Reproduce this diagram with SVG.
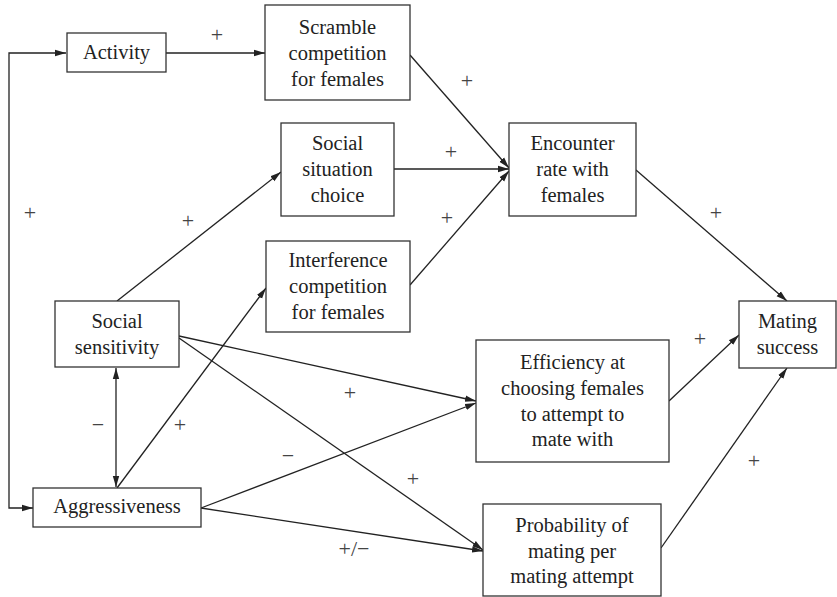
<svg xmlns="http://www.w3.org/2000/svg" width="837" height="597" viewBox="0 0 837 597">
<style>
.box{fill:#fff;stroke:#333;stroke-width:1.3}
.t{font-family:'Liberation Serif','Times New Roman',serif;font-size:20.5px;fill:#222;text-anchor:middle}
.lbl{font-family:'Liberation Serif','Times New Roman',serif;font-size:22px;fill:#444;text-anchor:middle}
.c{fill:none;stroke:#222;stroke-width:1.3}
</style>
<defs>
<marker id="ah" markerUnits="userSpaceOnUse" markerWidth="12" markerHeight="8" refX="11" refY="4" orient="auto-start-reverse">
<path d="M0,0.8 L11,4 L0,7.2 Z" fill="#222"/>
</marker>
</defs>
<rect width="837" height="597" fill="#fff"/>
<g id="connectors">
<path class="c" d="M66,53 H9 V508 H33" marker-start="url(#ah)" marker-end="url(#ah)"/>
<path class="c" d="M166,53 L265,53" marker-end="url(#ah)"/>
<path class="c" d="M410,55 L509,168" marker-end="url(#ah)"/>
<path class="c" d="M394,169 L509,169" marker-end="url(#ah)"/>
<path class="c" d="M410,285 L509,171" marker-end="url(#ah)"/>
<path class="c" d="M117,301 L281,172" marker-end="url(#ah)"/>
<path class="c" d="M117,488 L266,288" marker-end="url(#ah)"/>
<path class="c" d="M116,368 L116,487" marker-start="url(#ah)" marker-end="url(#ah)"/>
<path class="c" d="M179,336 L476,401" marker-end="url(#ah)"/>
<path class="c" d="M179,338 L483,550" marker-end="url(#ah)"/>
<path class="c" d="M201,508 L476,403" marker-end="url(#ah)"/>
<path class="c" d="M201,508 L483,551" marker-end="url(#ah)"/>
<path class="c" d="M636,170 L787,301" marker-end="url(#ah)"/>
<path class="c" d="M669,401 L739,335" marker-end="url(#ah)"/>
<path class="c" d="M661,548 L787,368" marker-end="url(#ah)"/>
</g>
<g id="labels">
<text class="lbl" x="217" y="42">+</text>
<text class="lbl" x="467" y="88">+</text>
<text class="lbl" x="451" y="159">+</text>
<text class="lbl" x="447" y="225">+</text>
<text class="lbl" x="30" y="220">+</text>
<text class="lbl" x="188" y="228">+</text>
<text class="lbl" x="716" y="220">+</text>
<text class="lbl" x="700" y="346">+</text>
<text class="lbl" x="754" y="468">+</text>
<text class="lbl" x="350" y="400">+</text>
<text class="lbl" x="288" y="463">−</text>
<text class="lbl" x="413" y="486">+</text>
<text class="lbl" x="354" y="556">+/−</text>
<text class="lbl" x="98" y="432">−</text>
<text class="lbl" x="180" y="432">+</text>
</g>
<g id="activity">
<rect class="box" x="67" y="33" width="99" height="39"/>
<text class="t" x="116.5" y="59">Activity</text>
</g>
<g id="scramble">
<rect class="box" x="265" y="5" width="145" height="95"/>
<text class="t" x="337.5" y="33.5">Scramble</text>
<text class="t" x="337.5" y="59.5">competition</text>
<text class="t" x="337.5" y="85.5">for females</text>
</g>
<g id="social-situation">
<rect class="box" x="281" y="123" width="113" height="93"/>
<text class="t" x="337.5" y="149.5">Social</text>
<text class="t" x="337.5" y="175.5">situation</text>
<text class="t" x="337.5" y="201.5">choice</text>
</g>
<g id="encounter">
<rect class="box" x="509" y="123" width="127" height="93"/>
<text class="t" x="572.5" y="149.5">Encounter</text>
<text class="t" x="572.5" y="175.5">rate with</text>
<text class="t" x="572.5" y="201.5">females</text>
</g>
<g id="interference">
<rect class="box" x="266" y="241" width="144" height="91"/>
<text class="t" x="338" y="266.5">Interference</text>
<text class="t" x="338" y="292.5">competition</text>
<text class="t" x="338" y="318.5">for females</text>
</g>
<g id="social-sensitivity">
<rect class="box" x="55" y="301" width="124" height="66"/>
<text class="t" x="117" y="327.5">Social</text>
<text class="t" x="117" y="353.5">sensitivity</text>
</g>
<g id="aggressiveness">
<rect class="box" x="33" y="488" width="168" height="39"/>
<text class="t" x="117" y="513">Aggressiveness</text>
</g>
<g id="mating-success">
<rect class="box" x="739" y="301" width="97" height="67"/>
<text class="t" x="787.5" y="328">Mating</text>
<text class="t" x="787.5" y="354">success</text>
</g>
<g id="efficiency">
<rect class="box" x="476" y="340" width="193" height="122"/>
<text class="t" x="572.5" y="369">Efficiency at</text>
<text class="t" x="572.5" y="395">choosing females</text>
<text class="t" x="572.5" y="421">to attempt to</text>
<text class="t" x="572.5" y="446">mate with</text>
</g>
<g id="probability">
<rect class="box" x="483" y="504" width="178" height="92"/>
<text class="t" x="572" y="532">Probability of</text>
<text class="t" x="572" y="557.5">mating per</text>
<text class="t" x="572" y="583">mating attempt</text>
</g>
</svg>
